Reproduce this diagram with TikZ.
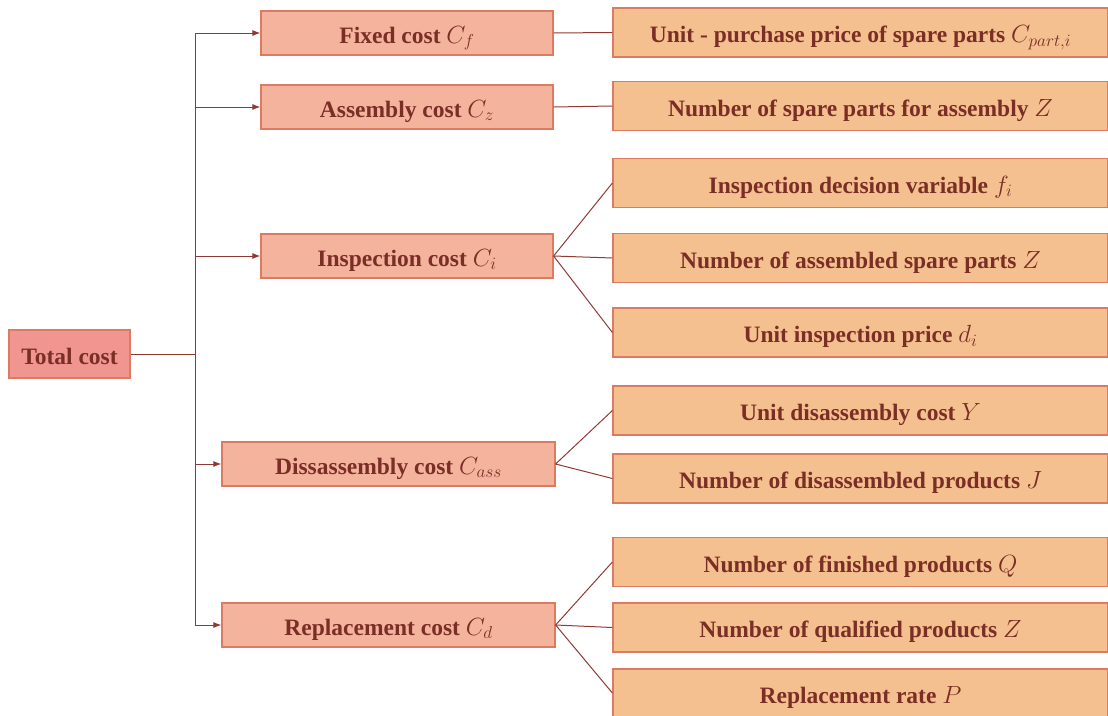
\documentclass[tikz,border=0pt]{standalone}
\usepackage{fontspec}
\setmainfont{Liberation Serif}
\usetikzlibrary{arrows.meta}
\definecolor{txt}{HTML}{7A2E26}
\definecolor{ln}{HTML}{8E3A33}
\definecolor{bd}{HTML}{DC7A62}
\definecolor{rootf}{HTML}{F09590}
\definecolor{midf}{HTML}{F4B39D}
\definecolor{leaff}{HTML}{F5C08F}
\newcommand{\mth}[1]{{\fontsize{27}{28}\selectfont$#1$}}
\begin{document}
\begin{tikzpicture}[x=1pt,y=-1pt,
  box/.style={draw=bd, line width=1.2pt, text=txt, font=\bfseries\fontsize{23.5}{26}\selectfont, anchor=center, inner sep=0pt, text height=20pt, text depth=0pt},
  rootbox/.style={box, fill=rootf, minimum width=121pt, minimum height=48pt},
  midbox/.style={box, fill=midf, minimum height=44pt},
  leafbox/.style={box, fill=leaff, minimum width=495pt, minimum height=49pt},
  conn/.style={draw=ln, line width=1pt},
  arr/.style={conn, -{Latex[length=8pt,width=6pt]}}]
\useasboundingbox (0,0) rectangle (1108,715);
% root
\node[rootbox] (tot) at (69.5,354) {Total cost};
% level 2
\node[midbox, minimum width=292pt] (fix) at (407,33) {Fixed cost \mth{C_f}};
\node[midbox, minimum width=292pt] (asm) at (407,107) {Assembly cost \mth{C_z}};
\node[midbox, minimum width=292pt] (ins) at (407,256) {Inspection cost \mth{C_i}};
\node[midbox, minimum width=333pt] (dis) at (388.5,464) {Dissassembly cost \mth{C_{ass}}};
\node[midbox, minimum width=333pt] (rep) at (388.5,625) {Replacement cost \mth{C_d}};
% level 3
\node[leafbox] (l1) at (860.5,32.5) {Unit - purchase price of spare parts \mth{C_{part,i}}};
\node[leafbox] (l2) at (860.5,106) {Number of spare parts for assembly \mth{Z}};
\node[leafbox] (l3) at (860.5,183) {Inspection decision variable \mth{f_i}};
\node[leafbox] (l4) at (860.5,258) {Number of assembled spare parts \mth{Z}};
\node[leafbox] (l5) at (860.5,332.5) {Unit inspection price \mth{d_i}};
\node[leafbox] (l6) at (860.5,410.5) {Unit disassembly cost \mth{Y}};
\node[leafbox] (l7) at (860.5,478.5) {Number of disassembled products \mth{J}};
\node[leafbox] (l8) at (860.5,562) {Number of finished products \mth{Q}};
\node[leafbox] (l9) at (860.5,627.5) {Number of qualified products \mth{Z}};
\node[leafbox, minimum height=48pt] (l10) at (860.5,693) {Replacement rate \mth{P}};
% trunk
\coordinate (tj) at (195,354);
\coordinate (ttop) at (195,33);
\coordinate (tbot) at (195,625);
\draw[conn] (tot.east) -- (tj);
\draw[conn] (ttop) -- (tbot);
\draw[arr] (ttop) -- (fix.west);
\draw[arr] (195,107) -- (asm.west);
\draw[arr] (195,256) -- (ins.west);
\draw[arr] (195,464) -- (dis.west);
\draw[arr] (tbot) -- (rep.west);
% leaves
\draw[conn] (fix.east) -- (l1.west);
\draw[conn] (asm.east) -- (l2.west);
\draw[conn] (ins.east) -- (l3.west);
\draw[conn] (ins.east) -- (l4.west);
\draw[conn] (ins.east) -- (l5.west);
\draw[conn] (dis.east) -- (l6.west);
\draw[conn] (dis.east) -- (l7.west);
\draw[conn] (rep.east) -- (l8.west);
\draw[conn] (rep.east) -- (l9.west);
\draw[conn] (rep.east) -- (l10.west);
\end{tikzpicture}
\end{document}
